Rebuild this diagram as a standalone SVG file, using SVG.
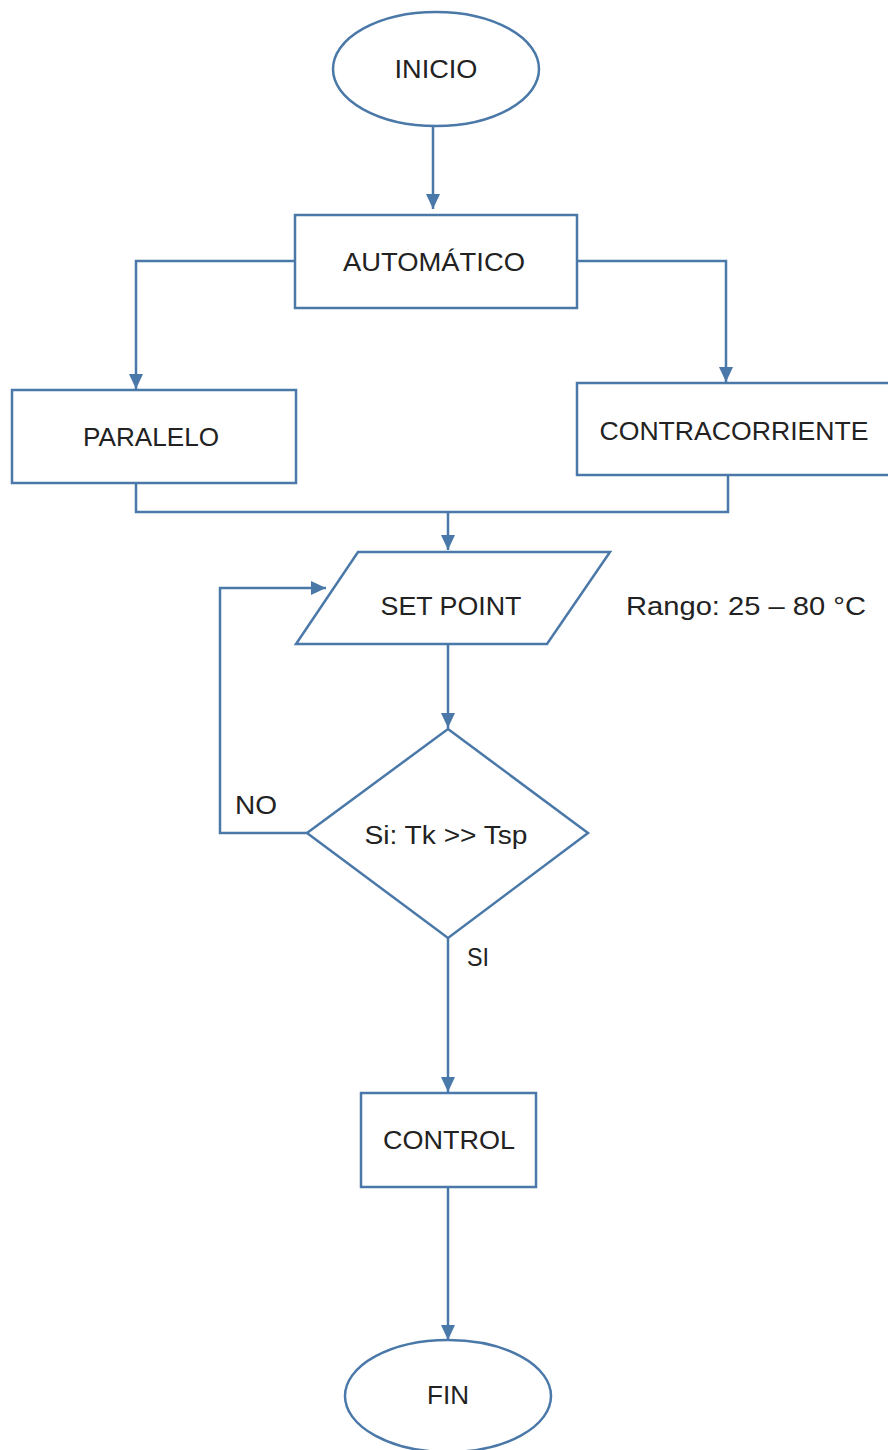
<svg xmlns="http://www.w3.org/2000/svg" width="888" height="1450" viewBox="0 0 888 1450">
  <style>
    .shape { fill: #ffffff; stroke: #4a78a8; stroke-width: 2.5; }
    .link { fill: none; stroke: #4a78a8; stroke-width: 2.5; }
    .label { font-family: "Liberation Sans", Arial, sans-serif; font-size: 25px; fill: #222222; text-anchor: middle; }
    .side { font-family: "Liberation Sans", Arial, sans-serif; font-size: 25px; fill: #222222; text-anchor: start; }
  </style>
  <defs>
    <marker id="arrow" markerUnits="userSpaceOnUse" markerWidth="16" markerHeight="16" viewBox="0 0 16 16" refX="15" refY="8" orient="auto">
      <path d="M0,1 L15,8 L0,15 Z" fill="#4a78a8"/>
    </marker>
  </defs>
  <rect width="888" height="1450" fill="#ffffff"/>

  <!-- connectors -->
  <g id="connectors">
    <path class="link" d="M433,126 L433,209" marker-end="url(#arrow)"/>
    <path class="link" d="M295,261 L136,261 L136,389" marker-end="url(#arrow)"/>
    <path class="link" d="M577,261 L726,261 L726,382" marker-end="url(#arrow)"/>
    <path class="link" d="M136,483 L136,512 L728,512 L728,475"/>
    <path class="link" d="M448,512 L448,550" marker-end="url(#arrow)"/>
    <path class="link" d="M448,644 L448,728" marker-end="url(#arrow)"/>
    <path class="link" d="M307,833 L220,833 L220,588 L326,588" marker-end="url(#arrow)"/>
    <path class="link" d="M448,938 L448,1092" marker-end="url(#arrow)"/>
    <path class="link" d="M448,1187 L448,1340" marker-end="url(#arrow)"/>
  </g>

  <g id="inicio">
    <ellipse class="shape" cx="436" cy="69" rx="103" ry="57"/>
    <text class="label" x="436" y="78" textLength="83" lengthAdjust="spacingAndGlyphs">INICIO</text>
  </g>

  <g id="automatico">
    <rect class="shape" x="295" y="215" width="282" height="93"/>
    <text class="label" x="434" y="271" textLength="182" lengthAdjust="spacingAndGlyphs">AUTOMÁTICO</text>
  </g>

  <g id="paralelo">
    <rect class="shape" x="12" y="390" width="284" height="93"/>
    <text class="label" x="151" y="446" textLength="136" lengthAdjust="spacingAndGlyphs">PARALELO</text>
  </g>

  <g id="contracorriente">
    <rect class="shape" x="577" y="383" width="320" height="92"/>
    <text class="label" x="734" y="440" textLength="269" lengthAdjust="spacingAndGlyphs">CONTRACORRIENTE</text>
  </g>

  <g id="set-point">
    <polygon class="shape" points="358,552 610,552 547,644 296,644"/>
    <text class="label" x="451" y="615" textLength="141" lengthAdjust="spacingAndGlyphs">SET POINT</text>
  </g>
  <text class="side" x="626" y="615" textLength="240" lengthAdjust="spacingAndGlyphs">Rango: 25 – 80 °C</text>

  <g id="decision">
    <polygon class="shape" points="448,729 588,833 448,938 307,833"/>
    <text class="label" x="446" y="844" textLength="163" lengthAdjust="spacingAndGlyphs">Si: Tk &gt;&gt; Tsp</text>
  </g>
  <text class="side" x="235" y="814" textLength="42" lengthAdjust="spacingAndGlyphs">NO</text>
  <text class="side" x="467" y="966" textLength="22" lengthAdjust="spacingAndGlyphs">SI</text>

  <g id="control">
    <rect class="shape" x="361" y="1093" width="175" height="94"/>
    <text class="label" x="449" y="1149" textLength="132" lengthAdjust="spacingAndGlyphs">CONTROL</text>
  </g>

  <g id="fin">
    <ellipse class="shape" cx="448" cy="1396" rx="103" ry="56"/>
    <text class="label" x="448" y="1404" textLength="42" lengthAdjust="spacingAndGlyphs">FIN</text>
  </g>
</svg>
